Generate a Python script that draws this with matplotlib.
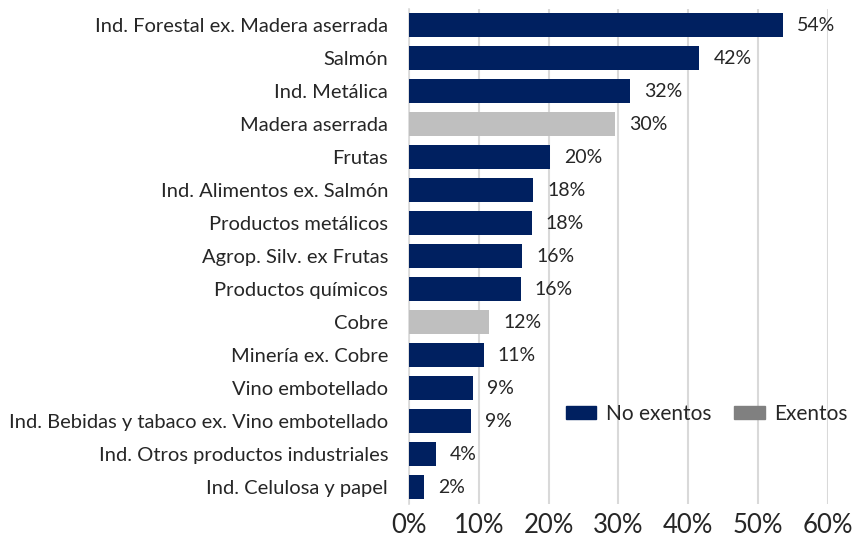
import matplotlib.pyplot as plt
from matplotlib.patches import Patch
from matplotlib.ticker import PercentFormatter

plt.rcParams['font.family'] = ['Lato', 'DejaVu Sans']

# datos (orden de arriba hacia abajo)
sectores = ["Ind. Forestal ex. Madera aserrada", "Salmón", "Ind. Metálica", "Madera aserrada",
            "Frutas", "Ind. Alimentos ex. Salmón", "Productos metálicos", "Agrop. Silv. ex Frutas",
            "Productos químicos", "Cobre", "Minería ex. Cobre", "Vino embotellado",
            "Ind. Bebidas y tabaco ex. Vino embotellado", "Ind. Otros productos industriales",
            "Ind. Celulosa y papel"]
valores = [53.6, 41.6, 31.6, 29.5, 20.2, 17.8, 17.6, 16.2, 16.0, 11.5, 10.7, 9.2, 8.9, 3.8, 2.2]
exento = [False, False, False, True, False, False, False, False, False, True, False, False, False, False, False]

azul = "#002060"
gris = "#bfbfbf"
colores = [gris if e else azul for e in exento]

fig = plt.figure(figsize=(8.58, 5.5), dpi=100)
ax = fig.add_axes([0.4767, 0.0845, 0.965 - 0.4767, 0.9])

pos = list(range(len(sectores)))
ax.barh(pos, valores, height=0.7, color=colores, zorder=3)
ax.set_ylim(len(sectores) - 0.5, -0.5)
ax.set_yticks(pos)
ax.set_yticklabels(sectores, fontsize=14.5, color="#262626")
ax.set_xlim(0, 60)
ax.set_xticks(range(0, 61, 10))
ax.xaxis.set_major_formatter(PercentFormatter(decimals=0))
ax.tick_params(axis="x", labelsize=18.5, colors="#262626", length=0, pad=7)
ax.tick_params(axis="y", length=0, pad=15)
ax.grid(axis="x", color="#d9d9d9", linewidth=1.5, zorder=0)
for s in ["top", "right", "bottom"]:
    ax.spines[s].set_visible(False)
ax.spines["left"].set_color("#d9d9d9")
ax.spines["left"].set_linewidth(1.2)

for p, v in zip(pos, valores):
    ax.text(v + 2.0, p, f"{round(v):.0f}%", va="center", ha="left", fontsize=14, color="#262626")

handles = [Patch(color=azul, label="No exentos"), Patch(color="#808080", label="Exentos")]
fig.legend(handles=handles, loc="center left", bbox_to_anchor=(566 / 858, 1 - 414 / 550), ncol=2,
           frameon=False, fontsize=15, handlelength=1.45, handleheight=0.6, columnspacing=1.1,
           handletextpad=0.47, borderpad=0, borderaxespad=0, labelcolor="#262626")

fig.savefig("out.png", dpi=100)
